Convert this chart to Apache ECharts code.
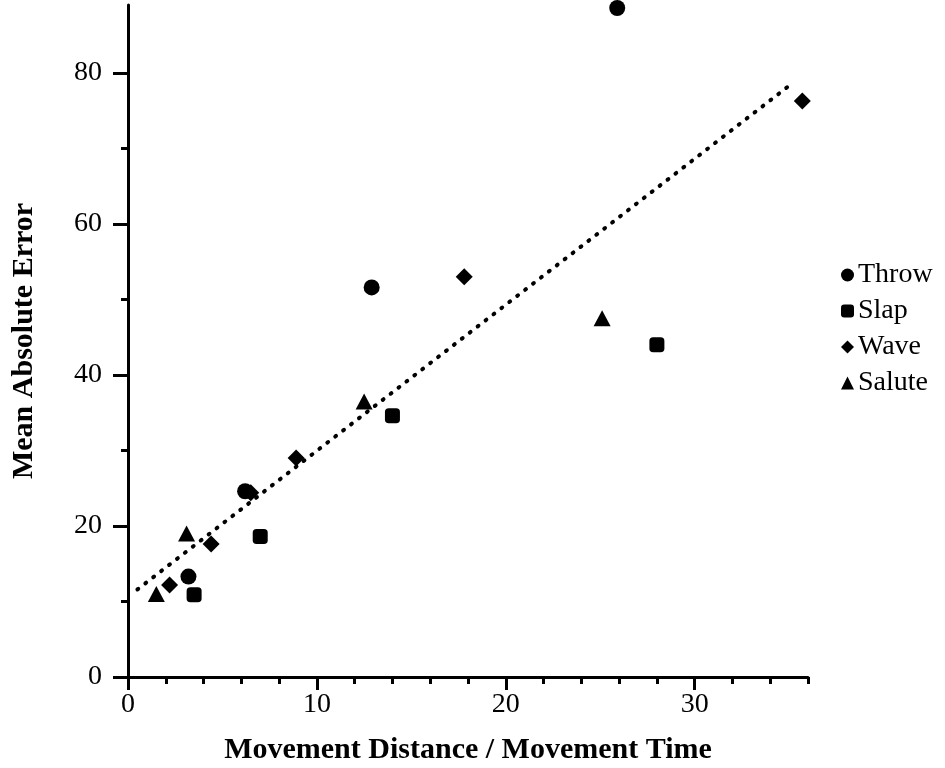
<!DOCTYPE html>
<html>
<head>
<meta charset="utf-8">
<script src="https://cdn.jsdelivr.net/npm/echarts@6/dist/echarts.min.js"></script>
<style>
  html, body { margin: 0; padding: 0; background: #fff; }
  #chart { width: 945px; height: 768px; }
</style>
</head>
<body>
<div id="chart"></div>
<script>
// Gesture data: movement distance / movement time vs. mean absolute error
const throwX  = [3.2, 6.2, 12.9, 25.9];
const throwY  = [13.3, 24.6, 51.6, 88.6];
const slapX   = [3.5, 7.0, 14.0, 28.0];
const slapY   = [10.9, 18.6, 34.6, 44.0];
const waveX   = [2.2, 4.4, 6.5, 8.9, 17.8, 35.7];
const waveY   = [12.2, 17.6, 24.4, 29.0, 53.0, 76.3];
const saluteX = [1.5, 3.1, 12.5, 25.1];
const saluteY = [11.0, 19.0, 36.5, 47.5];

// Regression line end points
const fitX = [0.5, 35.1];
const fitY = [11.6, 78.5];

// Tick positions
const xMajor = [0, 10, 20, 30];
const xMinor = [2, 4, 6, 8, 12, 14, 16, 18, 22, 24, 26, 28, 32, 34, 36];
const yMajor = [0, 20, 40, 60, 80];
const yMinor = [10, 30, 50, 70];

const pairs = (xs, ys) => xs.map((x, i) => [x, ys[i]]);

const serif = 'Liberation Serif';
const ink = '#000';

const chart = echarts.init(document.getElementById('chart'));

function scatter(name, symbol, size, xs, ys) {
  return {
    name: name,
    type: 'scatter',
    symbol: symbol,
    symbolSize: size,
    clip: false,
    itemStyle: { color: ink, opacity: 1 },
    data: pairs(xs, ys),
    z: 3
  };
}

chart.setOption({
  animation: false,
  backgroundColor: '#fff',
  grid: { left: 128, right: 137, top: 5, bottom: 91, outerBoundsMode: 'none', containLabel: false },
  xAxis: [
    {
      type: 'value', min: 0, max: 36,
      axisLine: { show: true, onZero: false, lineStyle: { color: ink, width: 3 } },
      axisTick: { show: true, customValues: xMajor, length: 13, lineStyle: { color: ink, width: 3 } },
      axisLabel: { customValues: xMajor, margin: 14, color: ink, fontFamily: serif, fontSize: 28 },
      splitLine: { show: false },
      name: 'Movement Distance / Movement Time',
      nameLocation: 'middle', nameGap: 58,
      nameTextStyle: { color: ink, fontFamily: serif, fontSize: 30, fontWeight: 'bold' }
    },
    {
      type: 'value', min: 0, max: 36, position: 'bottom', offset: 0,
      axisLine: { show: false },
      axisTick: { show: true, customValues: xMinor, length: 7, lineStyle: { color: ink, width: 3 } },
      axisLabel: { show: false },
      splitLine: { show: false }
    }
  ],
  yAxis: [
    {
      type: 'value', min: 0, max: 89,
      axisLine: { show: true, onZero: false, lineStyle: { color: ink, width: 3 } },
      axisTick: { show: true, customValues: yMajor, length: 15, lineStyle: { color: ink, width: 3 } },
      axisLabel: { customValues: yMajor, margin: 26, color: ink, fontFamily: serif, fontSize: 28 },
      splitLine: { show: false },
      name: 'Mean Absolute Error',
      nameLocation: 'middle', nameGap: 89, nameRotate: 90,
      nameTextStyle: { color: ink, fontFamily: serif, fontSize: 30, fontWeight: 'bold' }
    },
    {
      type: 'value', min: 0, max: 89, position: 'left', offset: 0,
      axisLine: { show: false },
      axisTick: { show: true, customValues: yMinor, length: 7, lineStyle: { color: ink, width: 3 } },
      axisLabel: { show: false },
      splitLine: { show: false }
    }
  ],
  legend: {
    orient: 'vertical',
    left: 836, top: 256,
    data: ['Throw', 'Slap', 'Wave', 'Salute'],
    itemWidth: 13, itemHeight: 13, itemGap: 8,
    textStyle: { color: ink, fontFamily: serif, fontSize: 28, lineHeight: 22, padding: [0, 0, 0, -1] }
  },
  series: [
    scatter('Throw', 'circle', 16, throwX, throwY),
    scatter('Slap', 'roundRect', 15, slapX, slapY),
    scatter('Wave', 'diamond', 17, waveX, waveY),
    scatter('Salute', 'triangle', [17, 16], saluteX, saluteY),
    {
      name: 'fit',
      type: 'line',
      data: pairs(fitX, fitY),
      symbol: 'none',
      clip: false,
      lineStyle: { color: ink, width: 4, type: [1, 9], cap: 'round' },
      z: 2
    }
  ]
});
</script>
</body>
</html>
